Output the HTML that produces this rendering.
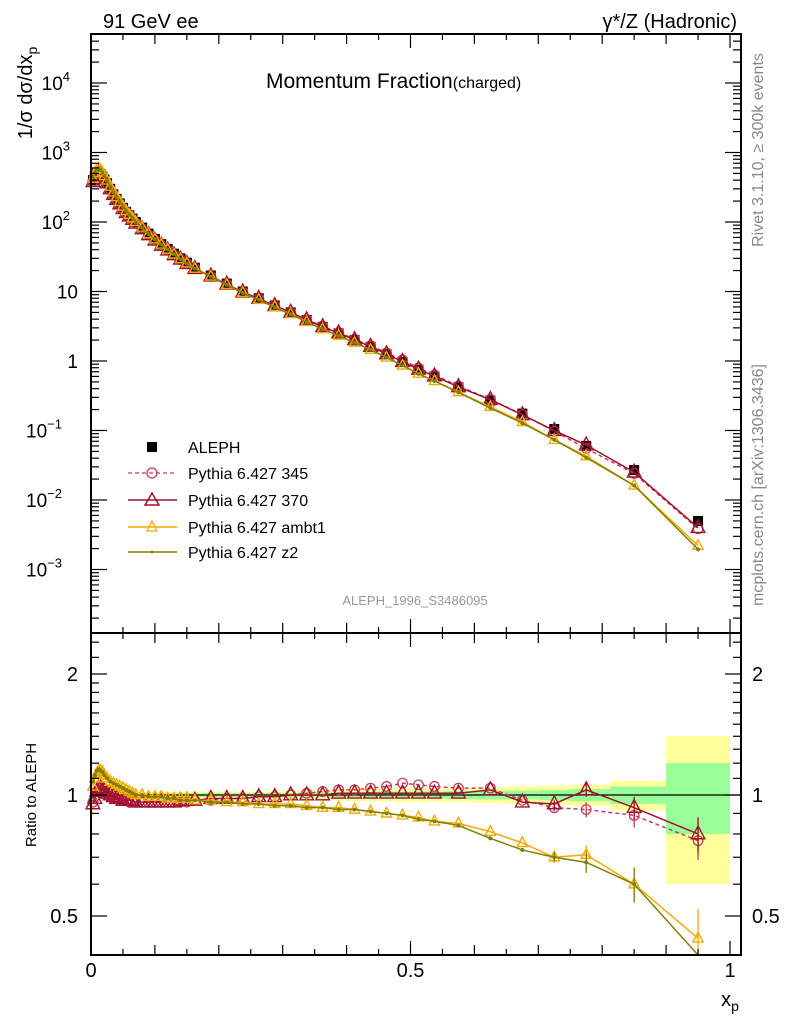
<!DOCTYPE html>
<html><head><meta charset="utf-8"><style>
body{margin:0;background:#fff;}
svg{display:block;font-family:"Liberation Sans",sans-serif;}
</style></head><body>
<svg id="c" width="786" height="1024" viewBox="0 0 786 1024" xmlns="http://www.w3.org/2000/svg">
<text x="103" y="28" font-size="20">91 GeV ee</text>
<text x="737" y="28" font-size="20" text-anchor="end">γ*/Z (Hadronic)</text>
<text x="266" y="88" font-size="21">Momentum Fraction<tspan font-size="16">(charged)</tspan></text>
<text transform="translate(32,93) rotate(-90)" font-size="20" text-anchor="middle">1/σ dσ/dx<tspan font-size="14" dy="5">p</tspan></text>
<text transform="translate(763,150) rotate(-90)" font-size="16" fill="#888" text-anchor="middle">Rivet 3.1.10, ≥ 300k events</text>
<text transform="translate(763,485) rotate(-90)" font-size="16" fill="#888" text-anchor="middle">mcplots.cern.ch [arXiv:1306.3436]</text>
<text x="415" y="605" font-size="13" fill="#999" text-anchor="middle">ALEPH_1996_S3486095</text>
<text transform="translate(36,795) rotate(-90)" font-size="15" text-anchor="middle">Ratio to ALEPH</text>
<text x="730" y="1006" font-size="20" text-anchor="middle">x<tspan font-size="14" dy="5">p</tspan></text>
<g id="gBand"></g><g id="gMain"></g><g id="gRatio"></g><g id="gAxes"></g>
<g>
<rect x="147" y="442" width="10" height="10" fill="#000"/>
<text x="188" y="453" font-size="16">ALEPH</text>
<line x1="128" y1="473" x2="177" y2="473" stroke="#c0405a" stroke-dasharray="4,3" stroke-width="1.3"/>
<circle cx="152" cy="473" r="5" fill="none" stroke="#c0405a" stroke-width="1.3"/>
<text x="188" y="479" font-size="16">Pythia 6.427 345</text>
<line x1="128" y1="500" x2="177" y2="500" stroke="#a01030" stroke-width="1.5"/>
<path d="M152,493 L159,505 L145,505 Z" fill="none" stroke="#a01030" stroke-width="1.5"/>
<text x="188" y="506" font-size="16">Pythia 6.427 370</text>
<line x1="128" y1="527" x2="177" y2="527" stroke="#f5a800" stroke-width="1.5"/>
<path d="M152,521 L157,531 L147,531 Z" fill="none" stroke="#f5a800" stroke-width="1.3"/>
<text x="188" y="533" font-size="16">Pythia 6.427 ambt1</text>
<line x1="128" y1="552" x2="177" y2="552" stroke="#808000" stroke-width="1.5"/>
<circle cx="152" cy="552" r="1.5" fill="#808000"/>
<text x="188" y="558" font-size="16">Pythia 6.427 z2</text>
</g>
</svg>
<script>
const xs=[0.003,0.006,0.009,0.012,0.015,0.018,0.021,0.025,0.03,0.035,0.04,0.045,0.05,0.055,0.06,0.065,0.07,0.08,0.09,0.1,0.11,0.12,0.13,0.14,0.15,0.1625,0.1875,0.2125,0.2375,0.2625,0.2875,0.3125,0.3375,0.3625,0.3875,0.4125,0.4375,0.4625,0.4875,0.5125,0.5375,0.575,0.625,0.675,0.725,0.775,0.85,0.95];
const aleph=[400,460,500,510,490,450,410,360,300,250,215,185,160,140,125,112,100,83,68,57,48,41,35,30,26,22,17,13,10,8,6.3,5,3.9,3.1,2.5,2.0,1.6,1.25,0.97,0.75,0.6,0.42,0.27,0.175,0.105,0.06,0.027,0.005];
const r345=[0.96,0.99,1.02,1.03,1.03,1.02,1.01,1.0,0.99,0.98,0.98,0.97,0.97,0.97,0.96,0.96,0.96,0.96,0.96,0.96,0.96,0.96,0.96,0.96,0.96,0.97,0.97,0.98,0.98,0.99,0.99,1.0,1.01,1.02,1.03,1.03,1.04,1.05,1.07,1.06,1.05,1.04,1.04,0.97,0.93,0.92,0.89,0.77];
const r370=[0.95,0.98,1.02,1.04,1.04,1.03,1.02,1.01,1.0,0.99,0.98,0.98,0.97,0.97,0.97,0.97,0.96,0.96,0.96,0.96,0.96,0.96,0.96,0.97,0.97,0.97,0.98,0.98,0.98,0.99,0.99,1.0,1.0,1.0,1.01,1.01,1.01,1.01,1.01,1.01,1.01,1.01,1.03,0.96,0.95,1.03,0.93,0.8];
const rambt1=[1.05,1.1,1.13,1.15,1.15,1.14,1.12,1.1,1.08,1.07,1.06,1.05,1.04,1.03,1.02,1.01,1.0,1.0,0.99,0.99,0.99,0.98,0.98,0.98,0.98,0.97,0.97,0.96,0.96,0.95,0.95,0.95,0.94,0.93,0.93,0.92,0.91,0.9,0.89,0.88,0.86,0.85,0.81,0.76,0.7,0.71,0.6,0.44];
const rz2=[1.08,1.12,1.15,1.16,1.15,1.14,1.12,1.1,1.08,1.07,1.06,1.05,1.04,1.03,1.02,1.01,1.0,1.0,0.99,0.99,0.99,0.98,0.98,0.97,0.97,0.97,0.96,0.96,0.95,0.95,0.94,0.94,0.93,0.93,0.92,0.92,0.91,0.9,0.89,0.87,0.86,0.84,0.78,0.73,0.7,0.68,0.6,0.39];
const errTot=[0.12,0.05,0.03,0.025,0.02,0.02,0.02,0.02,0.02,0.02,0.02,0.02,0.02,0.02,0.02,0.02,0.02,0.02,0.02,0.02,0.02,0.02,0.02,0.02,0.02,0.02,0.02,0.02,0.02,0.02,0.025,0.025,0.03,0.03,0.03,0.035,0.035,0.035,0.04,0.04,0.04,0.04,0.045,0.05,0.055,0.06,0.085,0.4];
const errStat=[0.04,0.02,0.01,0.01,0.01,0.01,0.01,0.01,0.01,0.01,0.01,0.01,0.01,0.01,0.01,0.01,0.01,0.01,0.01,0.01,0.01,0.01,0.01,0.01,0.01,0.01,0.01,0.01,0.01,0.01,0.012,0.012,0.015,0.015,0.015,0.015,0.018,0.02,0.02,0.02,0.02,0.022,0.025,0.025,0.03,0.035,0.05,0.2];
const ns='http://www.w3.org/2000/svg';
const X0=91,X1=741,Y0=34,Y1=633,R0=633,R1=955;
const sx=v=>91+639*v;
const sy=v=>361-69.5*Math.log10(v);
const sr=v=>795-121*Math.log2(v);
function mk(g,t,a){const e=document.createElementNS(ns,t);for(const k in a)e.setAttribute(k,a[k]);document.getElementById(g).appendChild(e);return e;}
function clipY(y,a,b){return Math.max(a,Math.min(b,y));}
const N=xs.length;
for(let i=0;i<N;i++){
 let a=i==0?0:(xs[i-1]+xs[i])/2, b=i==N-1?1:(xs[i]+xs[i+1])/2;
 if(i==N-1)a=0.9; if(i==N-2)b=0.9;
 const y1=mk('gBand','rect',{x:sx(a),y:sr(1+errTot[i]),width:sx(b)-sx(a),height:sr(1-errTot[i])-sr(1+errTot[i]),fill:'#ffff99'});
 
 
 const y2=mk('gBand','rect',{x:sx(a),y:sr(1+errStat[i]),width:sx(b)-sx(a),height:sr(1-errStat[i])-sr(1+errStat[i]),fill:'#99ff99'});
 
 
}
mk('gBand','line',{x1:X0,y1:sr(1),x2:X1,y2:sr(1),stroke:'#000','stroke-width':1.2});
const series=[
 {n:'345',r:r345,c:'#c0405a',d:'4,3',m:'circle',s:6},
 {n:'370',r:r370,c:'#a01030',d:'',m:'tri',s:8},
 {n:'ambt1',r:rambt1,c:'#f5a800',d:'',m:'tri',s:6},
 {n:'z2',r:rz2,c:'#808000',d:'',m:'dot',s:2}];
function marker(g,m,x,y,c,s){
 let e;
 if(m=='circle')e=mk(g,'circle',{cx:x,cy:y,r:s*0.8,fill:'none',stroke:c,'stroke-width':1.3});
 else if(m=='tri')e=mk(g,'path',{d:`M${x},${y-s} L${x+s*0.85},${y+s*0.6} L${x-s*0.85},${y+s*0.6} Z`,fill:'none',stroke:c,'stroke-width':1.4});
 else e=mk(g,'circle',{cx:x,cy:y,r:s,fill:c});
 return e;
}
xs.forEach((x,i)=>{const e=mk('gMain','rect',{x:sx(x)-5,y:sy(aleph[i])-5,width:10,height:10,fill:'#000'});
 
 });
series.forEach(S=>{
 const pts=xs.map((x,i)=>sx(x)+','+sy(aleph[i]*S.r[i])).join(' ');
 const l=mk('gMain','polyline',{points:pts,fill:'none',stroke:S.c,'stroke-width':1.5,'stroke-dasharray':S.d});
 
 
 xs.forEach((x,i)=>{const e=marker('gMain',S.m,sx(x),sy(aleph[i]*S.r[i]),S.c,S.s);
  
  });
 const rp=xs.map((x,i)=>sx(x)+','+clipY(sr(S.r[i]),R0,R1)).join(' ');
 const rl=mk('gRatio','polyline',{points:rp,fill:'none',stroke:S.c,'stroke-width':1.5,'stroke-dasharray':S.d});
 
 
 xs.forEach((x,i)=>{const y=sr(S.r[i]); if(y>R1)return;
  if(i>=N-4){const eb=0.02+0.06*(i-(N-4))/3;
   mk('gRatio','line',{x1:sx(x),y1:clipY(sr(S.r[i]+eb),R0,R1),x2:sx(x),y2:clipY(sr(S.r[i]-eb),R0,R1),stroke:S.c,'stroke-width':1.3});}
  const e=marker('gRatio',S.m,sx(x),y,S.c,S.s);
  
  });
});
const A='gAxes';
mk(A,'rect',{x:X0,y:Y0,width:X1-X0,height:Y1-Y0,fill:'none',stroke:'#000','stroke-width':2});
mk(A,'rect',{x:X0,y:R0,width:X1-X0,height:R1-R0,fill:'none',stroke:'#000','stroke-width':2});
for(let k=0;k<=20;k++){const v=k*0.05,x=sx(v);if(x>X1)break;
 const L=k%10==0?14:(k%2==0?10:6);
 [[Y0,1],[Y1,-1],[R0,1],[R1,-1]].forEach(([y,d])=>mk(A,'line',{x1:x,y1:y,x2:x,y2:y+d*L,stroke:'#000','stroke-width':1.2}));}
[['0',0],['0.5',0.5],['1',1]].forEach(([t,v])=>{const e=mk(A,'text',{x:sx(v),y:977,'font-size':20,'text-anchor':'middle'});e.textContent=t;
 
 });
for(let d=-4;d<=4;d++)for(let m=1;m<10;m++){const v=m*Math.pow(10,d),y=sy(v);if(y<Y0||y>Y1)continue;
 const L=m==1?16:8;
 mk(A,'line',{x1:X0,y1:y,x2:X0+L,y2:y,stroke:'#000','stroke-width':1.2});
 mk(A,'line',{x1:X1,y1:y,x2:X1-L,y2:y,stroke:'#000','stroke-width':1.2});}
const ylab=[['10','4'],['10','3'],['10','2'],['10',''],['1',''],['10','−1'],['10','−2'],['10','−3']];
const yexp=[4,3,2,1,0,-1,-2,-3];
yexp.forEach((p,i)=>{const e=mk(A,'text',{x:78,y:sy(Math.pow(10,p))+7,'font-size':19,'text-anchor':'end'});
 
 
 if(ylab[i][1]){e.setAttribute('x',78-(ylab[i][1].length*8));e.textContent=ylab[i][0];
  const t=document.createElementNS(ns,'tspan');t.setAttribute('font-size',13);t.setAttribute('dy',-9);t.textContent=ylab[i][1];e.appendChild(t);}
 else e.textContent=ylab[i][0];});
[0.5,0.6,0.7,0.8,0.9,1,1.1,1.2,1.3,1.4,1.5,1.6,1.7,1.8,1.9,2,2.2,2.4].forEach(v=>{const y=sr(v);
 const L=(v==0.5||v==1||v==2)?16:8;
 mk(A,'line',{x1:X0,y1:y,x2:X0+L,y2:y,stroke:'#000','stroke-width':1.2});
 mk(A,'line',{x1:X1,y1:y,x2:X1-L,y2:y,stroke:'#000','stroke-width':1.2});});
[['2',2],['1',1],['0.5',0.5]].forEach(([t,v])=>{
 const e=mk(A,'text',{x:78,y:sr(v)+7,'font-size':20,'text-anchor':'end'});e.textContent=t;
 
 
 const f=mk(A,'text',{x:752,y:sr(v)+7,'font-size':20});f.textContent=t;
 
 });
</script>
</body></html>
